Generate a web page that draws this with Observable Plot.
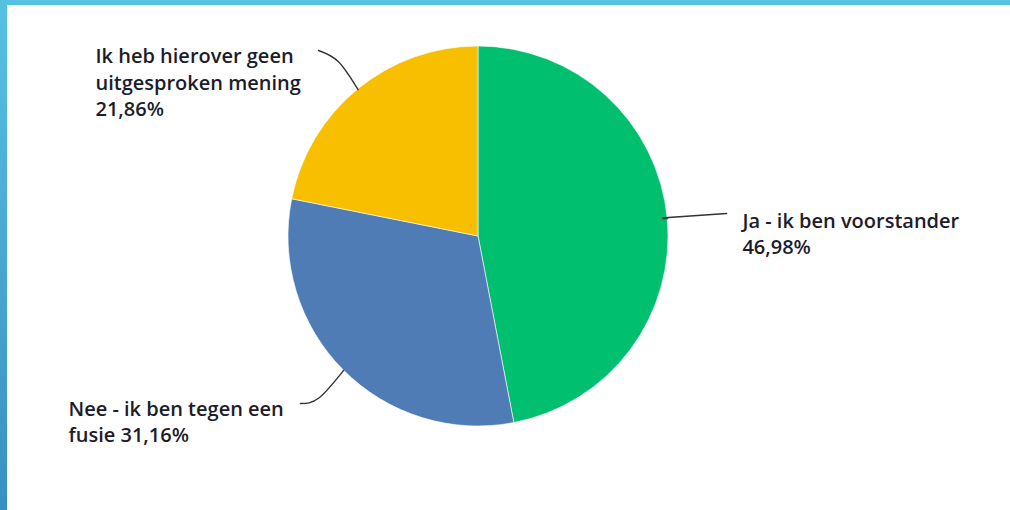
<!DOCTYPE html>
<html><head><meta charset="utf-8">
<script src="https://cdn.jsdelivr.net/npm/d3@7"></script>
<script src="https://cdn.jsdelivr.net/npm/@observablehq/plot@0.6"></script>
<style>
html,body{margin:0;padding:0;background:#fff;}
#frame{position:relative;width:1010px;height:510px;background:linear-gradient(#57c1e2,#3890c2);overflow:hidden;}
#inner{position:absolute;left:7px;top:5px;right:0;bottom:0;background:#fff;}
#chart{position:absolute;left:0;top:0;}
</style></head><body>
<div id="frame"><div id="inner"></div><div id="chart"></div></div>
<script>
// Data
const categories = ["Ja - ik ben voorstander", "Nee - ik ben tegen een fusie", "Ik heb hierover geen uitgesproken mening"];
const values = [46.98, 31.16, 21.86];
const labelTexts = ["Ja - ik ben voorstander\n46,98%", "Nee - ik ben tegen een\nfusie 31,16%", "Ik heb hierover geen\nuitgesproken mening\n21,86%"];
const colors = ["#00bf6f", "#4f7cb5", "#f8be00"];

// Layout (in radius units, pie centred at 0,0 with radius 1)
const labelX = [1.389, -2.158, -2.016];
const labelY = [0.145, -0.845, 1.01];
const leaderMid = [[1.0, 0.1], [-0.84, -0.85], [-0.737, 0.92]];
const leaderEnd = [[1.305, 0.121], [-0.937, -0.879], [-0.842, 0.979]];

const data = categories.map((c, i) => ({category: c, value: values[i]}));
const arcs = d3.pie().sort(null).value(d => d.value)(data);

const leaders = arcs.flatMap((a, i) => {
  const m = (a.startAngle + a.endAngle) / 2;
  return [
    {category: a.data.category, x: Math.sin(m), y: Math.cos(m)},
    {category: a.data.category, x: leaderMid[i][0], y: leaderMid[i][1]},
    {category: a.data.category, x: leaderEnd[i][0], y: leaderEnd[i][1]}
  ];
});
const labels = categories.map((c, i) => ({category: c, text: labelTexts[i], x: labelX[i], y: labelY[i]}));

const chart = Plot.plot({
  width: 1010,
  height: 510,
  margin: 0,
  style: {background: "transparent", overflow: "visible"},
  x: {domain: [-478 / 190, 532 / 190], axis: null},
  y: {domain: [-274 / 190, 236 / 190], axis: null},
  color: {domain: categories, range: colors},
  marks: [
    Plot.dot(data, {x: () => 0, y: () => 0, fill: "category", r: 0}),
    (index, scales) => {
      const r = scales.x(1) - scales.x(0);
      const g = d3.create("svg:g").attr("transform", `translate(${scales.x(0)},${scales.y(0)})`);
      const arc = d3.arc().innerRadius(0).outerRadius(r);
      g.selectAll("path").data(arcs).join("path")
        .attr("d", arc)
        .attr("fill", d => scales.color(d.data.category))
        .attr("stroke", "#ffffff")
        .attr("stroke-width", 0.6);
      return g.node();
    },
    Plot.line(leaders, {x: "x", y: "y", z: "category", curve: "natural", stroke: "#333", strokeWidth: 1.4}),
    Plot.text(labels, {x: "x", y: "y", text: "text", textAnchor: "start", lineAnchor: "top", fontSize: 20, fontWeight: 600, lineHeight: 1.32, fill: "#1c1c2c", fontFamily: "Open Sans"})
  ]
});
document.getElementById("chart").appendChild(chart);
</script>
</body></html>
